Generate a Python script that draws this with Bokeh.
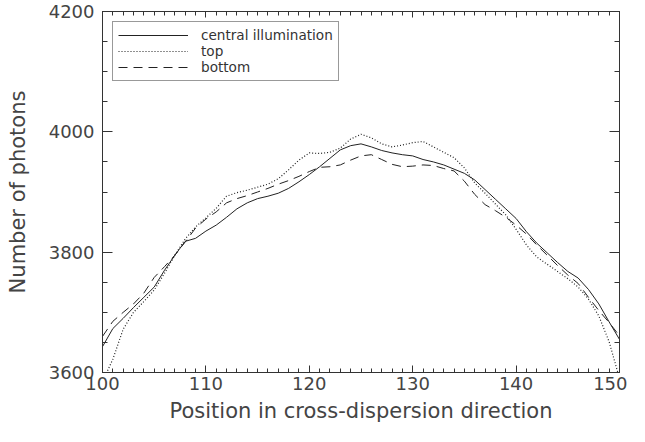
from bokeh.plotting import figure
from bokeh.models import (LinearAxis, SingleIntervalTicker, Range1d, Legend,
                          LegendItem, CustomJSTickFormatter)
from bokeh.embed import file_html
from bokeh.resources import INLINE

# ---- data ----
position = list(range(100, 151))
central = [3643, 3673, 3690, 3708, 3725, 3742, 3770, 3795, 3818, 3823,
           3835, 3845, 3858, 3872, 3882, 3889, 3893, 3898, 3906, 3917,
           3929, 3942, 3956, 3970, 3977, 3980, 3975, 3969, 3965, 3962,
           3960, 3954, 3950, 3945, 3938, 3931, 3920, 3904, 3888, 3872,
           3856, 3834, 3815, 3799, 3783, 3768, 3757, 3738, 3714, 3684,
           3655]
top = [3585, 3622, 3672, 3700, 3718, 3737, 3765, 3795, 3822, 3842,
       3857, 3873, 3893, 3899, 3903, 3908, 3913, 3922, 3937, 3953,
       3965, 3964, 3966, 3973, 3988, 3996, 3990, 3980, 3975, 3978,
       3982, 3984, 3975, 3966, 3957, 3940, 3915, 3898, 3880, 3862,
       3838, 3812, 3792, 3780, 3768, 3756, 3742, 3722, 3694, 3651,
       3590]
bottom = [3660, 3685, 3700, 3714, 3732, 3758, 3776, 3795, 3817, 3840,
          3855, 3867, 3882, 3889, 3894, 3900, 3906, 3913, 3919, 3926,
          3934, 3941, 3942, 3945, 3953, 3960, 3962, 3954, 3946, 3942,
          3943, 3945, 3944, 3939, 3935, 3918, 3896, 3879, 3869, 3858,
          3845, 3830, 3812, 3795, 3778, 3762, 3748, 3725, 3703, 3683,
          3661]
series_labels = ["central illumination", "top", "bottom"]
x_title = "Position in cross-dispersion direction"
y_title = "Number of photons"

INK = "#333333"
TXT = "#444444"
FONT = "DejaVu Sans"

p = figure(frame_width=517, frame_height=361,
           x_range=Range1d(100, 150), y_range=Range1d(3600, 4200),
           output_backend="svg", toolbar_location=None,
           min_border_left=102, min_border_right=8,
           min_border_top=11, min_border_bottom=58)
p.grid.visible = False
p.outline_line_color = INK
p.background_fill_color = "white"
p.border_fill_color = "white"


def style_axis(ax, interval, minor, tin, tmin, labels=True):
    ax.ticker = SingleIntervalTicker(interval=interval, num_minor_ticks=minor)
    ax.major_tick_in = tin
    ax.major_tick_out = 0
    ax.minor_tick_in = tmin
    ax.minor_tick_out = 0
    ax.axis_line_color = INK
    ax.major_tick_line_color = INK
    ax.minor_tick_line_color = INK
    ax.major_label_text_font = FONT
    ax.major_label_text_color = TXT
    ax.major_label_text_font_size = "18px"
    if not labels:
        ax.formatter = CustomJSTickFormatter(code="return ''")
        ax.major_label_standoff = 0


xa = p.xaxis[0]
style_axis(xa, 10, 10, 7, 4)
xa.major_label_standoff = 4
xa.axis_label = x_title
xa.axis_label_text_font = FONT
xa.axis_label_text_font_style = "normal"
xa.axis_label_text_font_size = "21px"
xa.axis_label_text_color = TXT
xa.axis_label_standoff = 6

ya = p.yaxis[0]
style_axis(ya, 200, 4, 10, 5)
ya.major_label_standoff = 8
ya.axis_label = y_title
ya.axis_label_text_font = FONT
ya.axis_label_text_font_style = "normal"
ya.axis_label_text_font_size = "21px"
ya.axis_label_text_color = TXT
ya.axis_label_standoff = 16

xt = LinearAxis()
style_axis(xt, 10, 10, 6, 4, labels=False)
p.add_layout(xt, "above")
yr = LinearAxis()
style_axis(yr, 200, 4, 10, 5, labels=False)
p.add_layout(yr, "right")

r1 = p.line(position, central, line_color="#222222", line_width=1)
r2 = p.line(position, top, line_color="#222222", line_width=1.2, line_dash="1 2")
r3 = p.line(position, bottom, line_color="#222222", line_width=1, line_dash="9 6")

legend = Legend(items=[LegendItem(label=series_labels[0], renderers=[r1]),
                       LegendItem(label=series_labels[1], renderers=[r2]),
                       LegendItem(label=series_labels[2], renderers=[r3])],
                location=(10, 291))
legend.border_line_color = INK
legend.border_line_width = 1
legend.background_fill_alpha = 1
legend.label_text_font = FONT
legend.label_text_font_size = "13.6px"
legend.label_text_color = "#333333"
legend.glyph_width = 70
legend.glyph_height = 16
legend.label_height = 16
legend.spacing = 0
legend.padding = 5
legend.margin = 0
legend.label_standoff = 13
p.add_layout(legend)

open("out.html", "w").write(file_html(p, INLINE))
